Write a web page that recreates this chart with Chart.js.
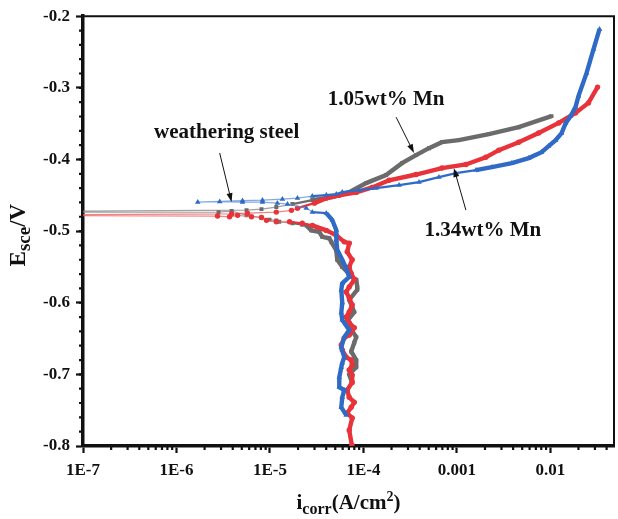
<!DOCTYPE html>
<html>
<head>
<meta charset="utf-8">
<script src="https://cdn.jsdelivr.net/npm/chart.js@4.4.1/dist/chart.umd.min.js"></script>
<style>
  html, body { margin: 0; padding: 0; background: #fff; }
  #wrap { width: 618px; height: 519px; }
</style>
</head>
<body>
<div id="wrap"><canvas id="tafel" width="618" height="519"></canvas></div>
<script>
// Polarization curves, potential (V vs SCE) against current density (A/cm2)
const seriesNames = ['weathering steel', '1.05wt% Mn', '1.34wt% Mn'];

// weathering steel
const wsCurrent = [
  6.55e-5, 5.80e-5, 5.94e-5, 6.24e-5, 5.52e-5, 5.52e-5, 5.80e-5, 5.94e-5, 6.24e-5, 5.80e-5,
  6.24e-5, 7.05e-5, 5.94e-5, 5.80e-5, 5.94e-5, 5.80e-5, 5.94e-5, 7.05e-5, 6.55e-5, 5.94e-5,
  5.25e-5, 5.13e-5, 5.13e-5, 4.65e-5, 4.01e-5, 2.84e-5, 2.45e-5, 1.54e-5, 1.20e-5, 8.32e-6,
  5.09e-6, 2.90e-6, 1.69e-6,
  5.09e-6, 8.32e-6, 1.36e-5, 1.97e-5, 2.84e-5, 4.01e-5, 5.13e-5, 5.94e-5, 9.02e-5, 1.37e-4,
  2.41e-4, 3.94e-4, 6.43e-4, 9.77e-4, 1.60e-3, 2.37e-3, 3.87e-3, 5.87e-3, 8.07e-3, 9.59e-3,
  1.14e-2, 1.32e-2, 1.46e-2, 1.65e-2, 1.86e-2, 2.00e-2, 2.44e-2, 2.90e-2, 3.36e-2
];
const wsPotential = [
  -0.757, -0.746, -0.732, -0.722, -0.718, -0.704, -0.690, -0.684, -0.676, -0.662,
  -0.648, -0.638, -0.624, -0.614, -0.600, -0.582, -0.573, -0.564, -0.552, -0.540,
  -0.526, -0.5125, -0.4986, -0.4846, -0.4749, -0.4735, -0.4679, -0.4623, -0.4609, -0.4595,
  -0.4595, -0.4588, -0.4595,
  -0.4574, -0.4567, -0.4553, -0.4539, -0.4512, -0.4497, -0.4484, -0.4456, -0.4428, -0.4400,
  -0.4358, -0.4316, -0.4246, -0.4191, -0.4149, -0.4107, -0.4051, -0.3981, -0.3898, -0.3814,
  -0.3730, -0.3632, -0.3493, -0.3395, -0.3270, -0.3116, -0.2795, -0.2460, -0.2181
];

// 1.05wt% Mn
const mn105Current = [
  7.59e-5, 7.05e-5, 8.38e-5, 8.38e-5, 7.41e-5, 7.98e-5, 8.38e-5, 6.55e-5, 7.98e-5, 7.59e-5,
  7.05e-5, 8.59e-5, 8.59e-5, 8.38e-5, 7.59e-5, 5.94e-5, 5.25e-5, 5.13e-5, 4.53e-5, 4.31e-5,
  3.63e-5, 3.37e-5, 2.77e-5, 2.45e-5, 2.22e-5, 1.74e-5, 1.26e-5, 1.17e-5, 9.89e-6, 8.12e-6,
  5.62e-6, 3.89e-6, 2.82e-6,
  1e-9,
  5.62e-6, 8.12e-6, 1.17e-5, 1.74e-5, 2.84e-5, 4.65e-5, 7.05e-5, 1.07e-4, 1.75e-4, 2.59e-4,
  3.66e-4, 5.03e-4, 6.92e-4, 1.05e-3, 2.20e-3, 4.59e-3, 1.03e-2
];
const mn105Potential = [
  -0.712, -0.700, -0.690, -0.680, -0.668, -0.656, -0.648, -0.627, -0.613, -0.606,
  -0.596, -0.582, -0.578, -0.568, -0.564, -0.550, -0.540, -0.527, -0.515, -0.510,
  -0.508, -0.501, -0.499, -0.492, -0.491, -0.489, -0.487, -0.485, -0.484, -0.481,
  -0.478, -0.472, -0.4735,
  -0.474,
  -0.4707, -0.4693, -0.4665, -0.4623, -0.4567, -0.4525, -0.4456, -0.4330, -0.4218, -0.4051,
  -0.3939, -0.3842, -0.3758, -0.3730, -0.3646, -0.3549, -0.3395
];

// 1.34wt% Mn
const mn134Current = [
  7.53e-5, 7.05e-5, 7.59e-5, 6.71e-5, 7.41e-5, 7.98e-5, 7.05e-5, 6.71e-5, 7.59e-5, 7.59e-5,
  7.05e-5, 7.59e-5, 7.41e-5, 6.55e-5, 5.94e-5, 5.80e-5, 6.24e-5, 7.05e-5, 7.98e-5, 7.05e-5,
  6.55e-5, 7.05e-5, 7.59e-5, 7.05e-5, 6.55e-5, 7.05e-5, 7.98e-5, 7.41e-5, 7.05e-5, 7.59e-5,
  6.71e-5, 7.05e-5, 6.24e-5, 5.13e-5, 4.01e-5, 2.84e-5, 2.22e-5, 1.62e-5, 1.17e-5, 9.18e-6,
  8.12e-6, 6.35e-6, 4.51e-6, 3.70e-6, 2.75e-6,
  1e-9,
  3.89e-6, 5.75e-6, 1.17e-5, 1.70e-5, 1.97e-5, 2.99e-5, 4.01e-5, 5.52e-5, 8.38e-5, 1.24e-4,
  1.88e-4, 3.66e-4, 6.92e-4, 1.25e-3, 2.04e-3, 2.81e-3, 4.59e-3, 7.50e-3, 1.23e-2, 1.86e-2,
  2.56e-2, 3.20e-2
];
const mn134Potential = [
  -0.799, -0.778, -0.761, -0.754, -0.746, -0.739, -0.732, -0.722, -0.711, -0.701,
  -0.694, -0.687, -0.680, -0.676, -0.666, -0.659, -0.649, -0.645, -0.635, -0.628,
  -0.620, -0.613, -0.603, -0.593, -0.585, -0.578, -0.568, -0.559, -0.550, -0.540,
  -0.529, -0.517, -0.515, -0.506, -0.499, -0.492, -0.489, -0.487, -0.487, -0.485,
  -0.481, -0.480, -0.478, -0.480, -0.479,
  -0.478,
  -0.476, -0.475, -0.4735, -0.471, -0.468, -0.461, -0.454, -0.450, -0.446, -0.439,
  -0.429, -0.421, -0.412, -0.407, -0.397, -0.387, -0.376, -0.363, -0.349, -0.335,
  -0.321, -0.299
];

// axes
const xMajorTicks = [1e-7, 1e-6, 1e-5, 1e-4, 1e-3, 1e-2];
const xTickLabels = ['1E-7', '1E-6', '1E-5', '1E-4', '0.001', '0.01'];
const xMinorSteps = [2, 3, 4, 5, 6, 7, 8, 9];
const yRange = [-0.8, -0.2];

const xMinorTicks = [];
xMajorTicks.forEach(d => xMinorSteps.forEach(m => xMinorTicks.push(d * m)));
const yMinorTicks = [];
for (let k = 0; k <= 30; k++) yMinorTicks.push(+(yRange[0] + k * 0.02).toFixed(2));

const toPoints = (cur, pot) => cur.map((c, k) => ({ x: c, y: pot[k] }));

// arrows + labels, anchored in data units
const notes = [
  { text: 'weathering steel', at: [3.44e-6, -0.362], from: [2.9e-6, -0.391], to: [3.89e-6, -0.4595] },
  { text: '1.05wt% Mn', at: [1.75e-4, -0.317], from: [2.24e-4, -0.341], to: [3.48e-4, -0.391] },
  { text: '1.34wt% Mn', at: [1.90e-3, -0.4986], from: [1.25e-3, -0.4707], to: [9.29e-4, -0.4121] }
];

const SERIF = '"Liberation Serif", "Times New Roman", serif';
Chart.defaults.font.family = SERIF;
Chart.defaults.font.weight = 'bold';
Chart.defaults.font.size = 17;
Chart.defaults.color = '#111';

// sparse part of a scan (around the corrosion potential): thin light line between markers;
// "medium" part: markers close together but still separate
const segStyle = (thickColor, thinColor, lim) => {
  const inBox = (c, xMax) => c.p0.parsed.x < xMax && c.p1.parsed.x < xMax &&
                             c.p0.parsed.y > lim.yMin && c.p1.parsed.y > lim.yMin;
  return {
    borderWidth: c => inBox(c, lim.thin) ? 1.2 : (inBox(c, lim.medium) ? 2.2 : 4.4),
    borderColor: c => inBox(c, lim.thin) ? thinColor : thickColor
  };
};

const makeSet = (label, pts, color, thin, shape, radius, order, lim) => ({
  label,
  data: pts,
  showLine: true,
  borderColor: color,
  backgroundColor: color,
  pointBackgroundColor: color,
  pointBorderWidth: 0,
  pointRadius: radius,
  pointStyle: shape,
  tension: 0,
  order,
  segment: segStyle(color, thin, lim)
});

const frameAndNotes = {
  id: 'frameAndNotes',
  afterDraw(chart) {
    const { ctx, chartArea: a, scales: { x, y } } = chart;
    ctx.save();
    ctx.strokeStyle = '#111';
    ctx.fillStyle = '#111';

    // top and right border
    ctx.lineWidth = 2;
    ctx.beginPath();
    ctx.moveTo(a.left, a.top);
    ctx.lineTo(a.right, a.top);
    ctx.lineTo(a.right, a.bottom);
    ctx.stroke();

    // minor ticks
    ctx.lineWidth = 2.2;
    ctx.beginPath();
    xMinorTicks.forEach(v => {
      if (xMajorTicks.includes(v)) return;
      const px = x.getPixelForValue(v);
      if (px <= a.left || px >= a.right) return;
      ctx.moveTo(px, a.bottom);
      ctx.lineTo(px, a.bottom + 4);
    });
    yMinorTicks.forEach(v => {
      const py = y.getPixelForValue(v);
      if (py <= a.top || py >= a.bottom) return;
      ctx.moveTo(a.left, py);
      ctx.lineTo(a.left - 4, py);
    });
    ctx.stroke();

    // annotations
    ctx.font = 'bold 21px ' + SERIF;
    ctx.textAlign = 'center';
    ctx.textBaseline = 'middle';
    ctx.lineWidth = 1;
    notes.forEach(n => {
      ctx.fillText(n.text, x.getPixelForValue(n.at[0]), y.getPixelForValue(n.at[1]));
      const x0 = x.getPixelForValue(n.from[0]), y0 = y.getPixelForValue(n.from[1]);
      const x1 = x.getPixelForValue(n.to[0]), y1 = y.getPixelForValue(n.to[1]);
      const ang = Math.atan2(y1 - y0, x1 - x0);
      ctx.beginPath();
      ctx.moveTo(x0, y0);
      ctx.lineTo(x1 - 7 * Math.cos(ang), y1 - 7 * Math.sin(ang));
      ctx.stroke();
      ctx.beginPath();
      ctx.moveTo(x1, y1);
      ctx.lineTo(x1 - 9 * Math.cos(ang) + 3 * Math.sin(ang), y1 - 9 * Math.sin(ang) - 3 * Math.cos(ang));
      ctx.lineTo(x1 - 9 * Math.cos(ang) - 3 * Math.sin(ang), y1 - 9 * Math.sin(ang) + 3 * Math.cos(ang));
      ctx.closePath();
      ctx.fill();
    });

    // axis titles with sub/superscripts
    const big = 'bold 21px ' + SERIF, small = 'bold 16px ' + SERIF, sup = 'bold 14px ' + SERIF;
    ctx.textAlign = 'left';
    ctx.textBaseline = 'alphabetic';
    const parts = [
      ['i', big, 0], ['corr', small, 5], ['(A/cm', big, 0], ['2', sup, -8], [')', big, 0]
    ];
    let total = 0;
    parts.forEach(p => { ctx.font = p[1]; total += ctx.measureText(p[0]).width; });
    let tx = (a.left + a.right) / 2 - total / 2;
    parts.forEach(p => {
      ctx.font = p[1];
      ctx.fillText(p[0], tx, 509 + p[2]);
      tx += ctx.measureText(p[0]).width;
    });

    ctx.translate(17, (a.top + a.bottom) / 2 + 4);
    ctx.rotate(-Math.PI / 2);
    const yParts = [['E', 'bold 23px ' + SERIF, 0], ['sce', 'bold 19px ' + SERIF, 5], ['/V', 'bold 23px ' + SERIF, 0]];
    total = 0;
    yParts.forEach(p => { ctx.font = p[1]; total += ctx.measureText(p[0]).width; });
    tx = -total / 2;
    yParts.forEach(p => {
      ctx.font = p[1];
      ctx.fillText(p[0], tx, 8 + p[2]);
      tx += ctx.measureText(p[0]).width;
    });
    ctx.restore();
  }
};

new Chart(document.getElementById('tafel'), {
  type: 'scatter',
  data: {
    datasets: [
      makeSet(seriesNames[0], toPoints(wsCurrent, wsPotential), '#2f6bc6', 'rgba(90,140,215,0.75)', 'triangle', 3.2, 0,
              { thin: 3e-5, medium: 2e-3, yMin: -0.476 }),
      makeSet(seriesNames[2], toPoints(mn134Current, mn134Potential), '#e8333a', 'rgba(235,90,90,0.75)', 'circle', 2.7, 1,
              { thin: 2e-5, medium: 4e-5, yMin: -0.495 }),
      makeSet(seriesNames[1], toPoints(mn105Current, mn105Potential), '#6b6b6b', 'rgba(130,130,130,0.75)', 'rect', 2.8, 2,
              { thin: 2e-5, medium: 4e-5, yMin: -0.495 })
    ]
  },
  options: {
    responsive: false,
    animation: false,
    events: [],
    layout: { padding: { left: 0, top: 16, right: 2, bottom: 0 } },
    plugins: { legend: { display: false }, tooltip: { enabled: false } },
    scales: {
      x: {
        type: 'logarithmic',
        min: xMajorTicks[0],
        max: 0.048,
        afterBuildTicks: s => { s.ticks = xMajorTicks.map(v => ({ value: v })); },
        afterFit: s => { s.height = 73; },
        ticks: {
          autoSkip: false,
          maxRotation: 0,
          padding: 7,
          callback: (v) => xTickLabels[xMajorTicks.findIndex(t => Math.abs(t - v) / t < 1e-6)]
        },
        grid: { drawOnChartArea: false, tickLength: 7, tickWidth: 2.2, tickColor: '#111' },
        border: { display: true, width: 3.5, color: '#111' }
      },
      y: {
        min: yRange[0],
        max: yRange[1],
        afterFit: s => { s.width = 83; },
        ticks: {
          stepSize: 0.1,
          padding: 6,
          callback: v => v.toFixed(1)
        },
        grid: { drawOnChartArea: false, tickLength: 7, tickWidth: 2.2, tickColor: '#111' },
        border: { display: true, width: 3.5, color: '#111' }
      }
    }
  },
  plugins: [frameAndNotes]
});
</script>
</body>
</html>
